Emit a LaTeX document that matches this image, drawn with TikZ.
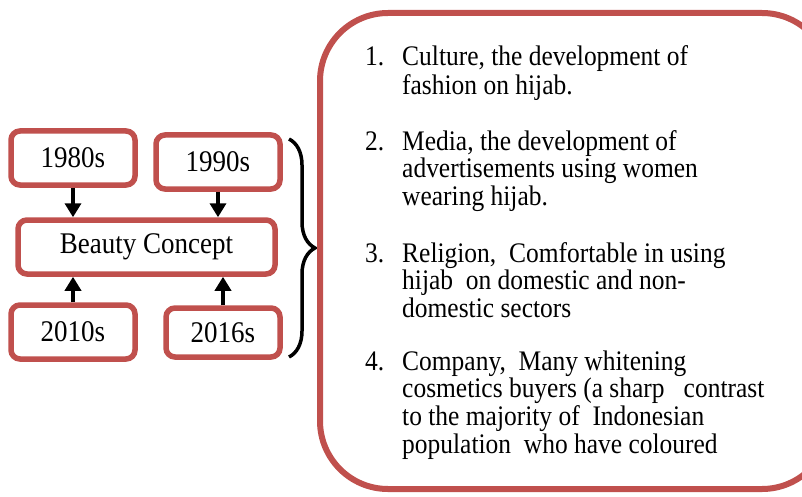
\documentclass[tikz,border=0pt]{standalone}
\usepackage{fontspec}
\setmainfont[FakeStretch=0.9]{Liberation Serif}
\usetikzlibrary{arrows.meta, decorations.pathreplacing}
\definecolor{boxred}{RGB}{192,80,77}
\newcommand{\itemlines}[1]{\begin{tabular}[t]{@{}l@{}}#1\end{tabular}}
\tikzset{
  yearbox/.style={draw=boxred, line width=5.5pt, rounded corners=9pt, fill=white,
    minimum width=124pt, minimum height=54pt, inner sep=0pt,
    font=\fontsize{30}{33}\selectfont},
  factorbox/.style={draw=boxred, line width=6pt, rounded corners=68pt,
    minimum width=510pt, minimum height=476pt},
  itemnum/.style={anchor=base west, inner sep=0pt, font=\fontsize{28.3}{27}\selectfont},
  itemtxt/.style={anchor=base west, inner sep=0pt, font=\fontsize{28.3}{27}\selectfont},
  push/.style={-{Triangle[length=14pt, width=16pt]}, line width=4pt}
}
\begin{document}
\begin{tikzpicture}[x=1pt, y=-1pt]
  \clip (0,0) rectangle (802,497);
  \useasboundingbox (0,0) rectangle (802,497);
  % Decades around the concept
  \node[yearbox] (b1980) at (73,158) {1980s};
  \node[yearbox] (b1990) at (218,162) {1990s};
  \node[yearbox, minimum width=257pt] (beauty) at (146.5,247) {Beauty Concept};
  \node[yearbox] (b2010) at (73,332) {2010s};
  \node[yearbox, minimum width=114pt, minimum height=49pt] (b2016) at (223,332.5) {2016s};
  % Arrows into the concept
  \draw[push] (b1980.south) -- (beauty.north -| b1980.south);
  \draw[push] (b1990.south) -- (beauty.north -| b1990.south);
  \draw[push] (b2010.north) -- (beauty.south -| b2010.north);
  \draw[push] (b2016.north) -- (beauty.south -| b2016.north);
  % Brace
  \draw[line width=3.5pt, decorate, decoration={brace, amplitude=26pt}] (289,139) -- (289,357);
  % Factors
  \node[factorbox] (factors) at (575,251) {};
  \node[itemnum] (n1) at (365,66) {1.};
  \node[itemtxt] (i1) at (402,66) {\itemlines{Culture, the development of\\fashion on hijab.}};
  \node[itemnum] (n2) at (365,150) {2.};
  \node[itemtxt] (i2) at (402,150) {\itemlines{Media, the development of\\advertisements using women\\wearing hijab.}};
  \node[itemnum] (n3) at (365,262) {3.};
  \node[itemtxt] (i3) at (402,262) {\itemlines{Religion,\ \ Comfortable in using\\hijab\ \ on domestic and non-\\domestic sectors}};
  \node[itemnum] (n4) at (365,370) {4.};
  \node[itemtxt] (i4) at (402,370) {\itemlines{Company,\ \ Many whitening\\cosmetics buyers (a sharp\ \ \ contrast\\to the majority of\ \ Indonesian\\population\ \ who have coloured}};
\end{tikzpicture}
\end{document}
